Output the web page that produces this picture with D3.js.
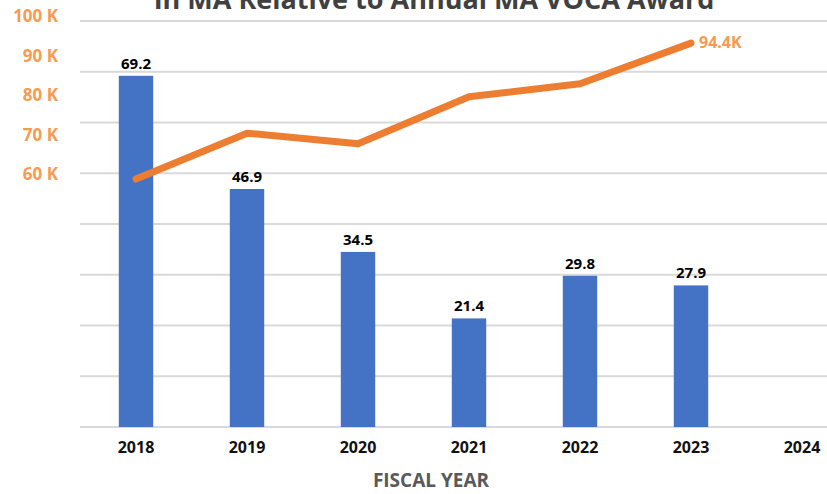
<!DOCTYPE html>
<html>
<head>
<meta charset="utf-8">
<script src="https://cdn.jsdelivr.net/npm/d3@7"></script>
<style>
  body { margin: 0; background: #fff; }
  text { font-family: "Open Sans", "DejaVu Sans", sans-serif; font-weight: 700; }
</style>
</head>
<body>
<div id="chart"></div>
<script>
// bars: per-year values; line: annual award (K)
const years = ["2018", "2019", "2020", "2021", "2022", "2023", "2024"];
const barValues = [69.2, 46.9, 34.5, 21.4, 29.8, 27.9, null];
const awardValues = [60.0, 71.6, 68.9, 80.8, 84.1, 94.4];
const awardTicks = [60, 70, 80, 90, 100];
const gridTicks = [0, 10, 20, 30, 40, 50, 60, 70, 80];

const width = 827, height = 494;
const margin = { top: 21, right: -30, bottom: 67, left: 80 };

const svg = d3.select("#chart").append("svg")
    .attr("width", width).attr("height", height);

const x = d3.scaleBand()
    .domain(years)
    .range([margin.left + 0.5, width - margin.right + 0.5])
    .paddingInner(0.69)
    .paddingOuter(0.345);

const y = d3.scaleLinear()
    .domain([0, 80])
    .range([height - margin.bottom, margin.top]);

// secondary scale for the award line
const y2 = d3.scaleLinear()
    .domain([60, 100])
    .range([179, 21]);

// gridlines
svg.append("g")
    .selectAll("line")
    .data(gridTicks)
    .join("line")
    .attr("x1", margin.left).attr("x2", width)
    .attr("y1", d => y(d)).attr("y2", d => y(d))
    .style("stroke", "#d9d9d9")
    .style("stroke-width", 2);

// title (cut off at top like the original)
svg.append("text")
    .attr("x", 434).attr("y", 9)
    .attr("text-anchor", "middle")
    .style("font-size", "27px")
    .style("fill", "#404040")
    .text("In MA Relative to Annual MA VOCA Award");

// bars
const barData = years.map((d, i) => ({ year: d, v: barValues[i] })).filter(d => d.v != null);

svg.append("g")
    .selectAll("rect")
    .data(barData)
    .join("rect")
    .attr("x", d => x(d.year))
    .attr("width", x.bandwidth())
    .attr("y", d => y(d.v))
    .attr("height", d => y(0) - y(d.v))
    .attr("fill", "#4472C4");

svg.append("g")
    .selectAll("text")
    .data(barData)
    .join("text")
    .attr("x", d => x(d.year) + x.bandwidth() / 2)
    .attr("y", d => y(d.v) - 7)
    .attr("text-anchor", "middle")
    .style("font-size", "15px")
    .style("fill", "#000")
    .text(d => d.v.toFixed(1));

// x axis labels
const xAxis = g => g
    .attr("transform", `translate(0,${height - margin.bottom})`)
    .call(d3.axisBottom(x).tickSize(0).tickPadding(15))
    .call(g => g.select(".domain").remove())
    .call(g => g.selectAll("text")
        .style("font-size", "16px")
        .style("font-family", "'Open Sans', sans-serif")
        .style("font-weight", 700)
        .style("fill", "#111"));

svg.append("g").call(xAxis);

svg.append("text")
    .attr("x", 431).attr("y", 487)
    .attr("text-anchor", "middle")
    .style("font-size", "19px")
    .style("fill", "#595959")
    .text("FISCAL YEAR");

// left orange axis labels
svg.append("g")
    .selectAll("text")
    .data(awardTicks)
    .join("text")
    .attr("x", 58)
    .attr("y", d => y2(d) + 1)
    .attr("text-anchor", "end")
    .style("font-size", "17px")
    .style("fill", "#F79A52")
    .text(d => d + " K");

// award line
const lineData = awardValues.map((v, i) => ({ year: years[i], v }));
const line = d3.line()
    .x(d => x(d.year) + x.bandwidth() / 2)
    .y(d => y2(d.v));

svg.append("path")
    .datum(lineData)
    .attr("d", line)
    .attr("fill", "none")
    .attr("stroke", "#ED7D31")
    .attr("stroke-width", 7)
    .attr("stroke-linecap", "round")
    .attr("stroke-linejoin", "round");

const last = lineData[lineData.length - 1];
svg.append("text")
    .attr("x", x(last.year) + x.bandwidth() / 2 + 8)
    .attr("y", y2(last.v) + 5)
    .style("font-size", "16px")
    .style("fill", "#F79A52")
    .text(last.v + "K");
</script>
</body>
</html>
